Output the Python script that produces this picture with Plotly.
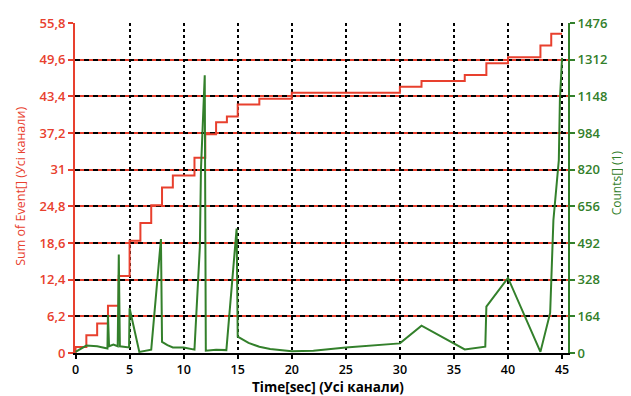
import plotly.graph_objects as go

# Sum of events (left axis), step curve
sum_t = [0, 0, 1, 2, 3, 4, 5, 6, 7, 8, 9, 11, 12, 13, 14, 15, 17, 20, 30, 32, 36, 38, 40, 43, 44, 45]
sum_v = [0, 1, 3, 5, 8, 13, 19, 22, 25, 28, 30, 33, 37, 39, 40, 42, 43, 44, 45, 46, 47, 49, 50, 52, 54, 54]

# Counts (right axis)
cnt_t = [0, 1, 2, 2.95, 3.0, 3.1, 3.5, 3.9, 4.0, 4.1, 4.95, 5.0, 5.9, 6.5, 7.0, 7.9, 8.0, 8.5, 9, 10, 11,
         11.5, 11.6, 11.95, 12.05, 13, 13.95, 14.9, 15.0, 16, 17, 18, 20, 22, 25, 30, 32, 36, 37.9, 38.0,
         40, 43, 43.9, 44.2, 44.7, 44.8, 45]
cnt_v = [5, 33, 30, 20, 170, 30, 38, 30, 440, 30, 25, 200, 5, 12, 15, 510, 50, 35, 25, 25, 15,
         475, 820, 1242, 10, 15, 13, 557, 73, 45, 28, 18, 8, 10, 25, 43, 122, 16, 28, 207,
         336, 5, 179, 594, 862, 1130, 1320]

x_ticks = [0, 5, 10, 15, 20, 25, 30, 35, 40, 45]
left_ticks = [0, 6.2, 12.4, 18.6, 24.8, 31, 37.2, 43.4, 49.6, 55.8]
left_labels = ["0", "6,2", "12,4", "18,6", "24,8", "31", "37,2", "43,4", "49,6", "55,8"]
right_ticks = [0, 164, 328, 492, 656, 820, 984, 1148, 1312, 1476]

x_title = "Time[sec] (Усі канали)"
left_title = "Sum of Event[] (Усі канали)"
right_title = "Counts[] (1)"

RED = "#e8402e"
GREEN = "#33802b"
FONT = "Open Sans"

fig = go.Figure()
fig.add_trace(go.Scatter(x=cnt_t, y=cnt_v, mode="lines", yaxis="y2",
                         line=dict(color=GREEN, width=2), showlegend=False))
fig.add_trace(go.Scatter(x=sum_t, y=sum_v, mode="lines", line_shape="hv",
                         line=dict(color=RED, width=2), showlegend=False))

fig.update_layout(
    width=623, height=388,
    margin=dict(l=67, r=63, t=15, b=43),
    paper_bgcolor="white", plot_bgcolor="white",
    font=dict(family=FONT, size=13),
    xaxis=dict(range=[-0.05, 45.55], tickvals=x_ticks, ticktext=[str(v) for v in x_ticks],
               automargin=False,
               showline=True, linecolor="black", linewidth=2,
               ticks="outside", ticklen=4, tickcolor="black", tickwidth=2,
               tickfont=dict(color="black", size=12.5, weight=600, family=FONT),
               showgrid=True, gridcolor="black", gridwidth=2, griddash="dot",
               zeroline=False),
    yaxis=dict(range=[0, 55.8], tickvals=left_ticks, ticktext=left_labels,
               automargin=False,
               showline=True, linecolor=RED, linewidth=2,
               ticks="outside", ticklen=5, tickcolor=RED, tickwidth=2,
               tickfont=dict(color=RED, size=13, weight=600, family=FONT),
               showgrid=True, gridcolor=RED, gridwidth=2, zeroline=False),
    yaxis2=dict(range=[0, 1476], tickvals=right_ticks, overlaying="y", side="right",
                automargin=False,
                showline=True, linecolor=GREEN, linewidth=2,
                ticks="outside", ticklen=5, tickcolor=GREEN, tickwidth=2,
                tickfont=dict(color=GREEN, size=13, weight=600, family=FONT),
                showgrid=True, gridcolor="black", gridwidth=2, griddash="5px,4px",
                zeroline=False),
    annotations=[
        dict(text=x_title, xref="paper", yref="paper", x=0.513, y=-0.104,
             xanchor="center", yanchor="middle", showarrow=False,
             font=dict(color="black", size=13.5, weight="bold", family=FONT)),
        dict(text=left_title, xref="paper", yref="paper", x=-0.112, y=0.506,
             xanchor="center", yanchor="middle", showarrow=False, textangle=-90,
             font=dict(color=RED, size=12.5, family=FONT)),
        dict(text=right_title, xref="paper", yref="paper", x=1.098, y=0.515,
             xanchor="center", yanchor="middle", showarrow=False, textangle=-90,
             font=dict(color=GREEN, size=12, family=FONT)),
    ],
)

fig.write_html("out.html")
